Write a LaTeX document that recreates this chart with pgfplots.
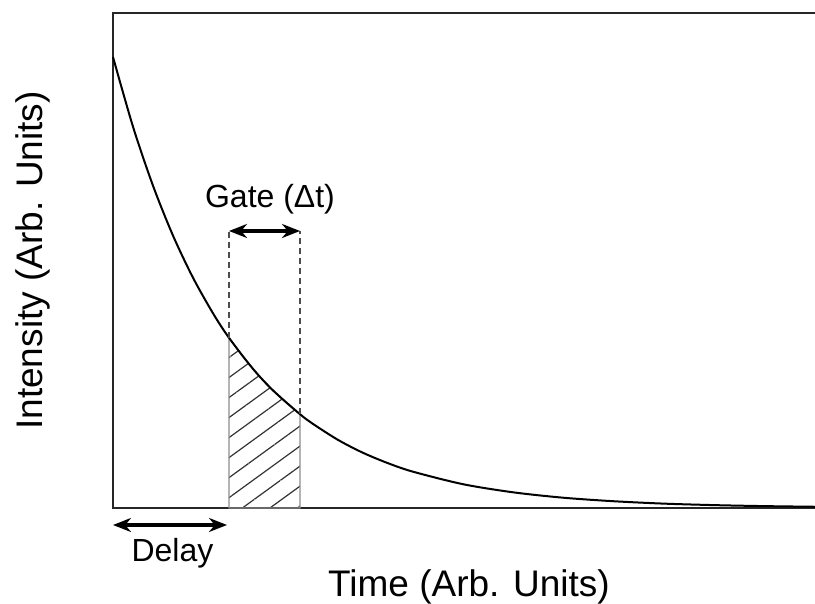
\documentclass[border=0pt]{standalone}
\usepackage{fontspec}
\setmainfont{Liberation Sans}
\usepackage{pgfplots}
\pgfplotsset{compat=1.18}
\usetikzlibrary{arrows.meta,patterns.meta}

\begin{document}
\begin{tikzpicture}
\begin{axis}[
  at={(0,0)}, anchor=south west,
  scale only axis,
  width=356pt, height=247.5pt,
  xmin=0, xmax=7.12,
  ymin=0, ymax=4.95,
  xtick=\empty, ytick=\empty,
  axis line style={line width=1pt, black!85},
  clip=false,
  xlabel={Time (Arb. Units)},
  ylabel={Intensity (Arb. Units)},
  label style={font=\fontsize{18.5}{20}\selectfont},
  xlabel style={at={(rel axis cs:0.5,-0.178)}, anchor=base},
  ylabel style={at={(rel axis cs:-0.112,0.5)}, anchor=center, rotate=0},
]
% hatched gate region under the decay
\addplot[draw=black!45, line width=0.7pt,
  pattern={Lines[angle=36,distance=8.1pt,line width=0.6pt]},
  pattern color=black!80] coordinates {
  (1.16,0) (1.16,1.702) (1.3,1.513) (1.45,1.334) (1.6,1.176)
  (1.75,1.037) (1.87,0.938) (1.87,0)
} -- cycle;

% decay curve
\addplot[smooth, black, line width=1pt] coordinates {
  (0,4.51) (0.2,3.813) (0.4,3.223) (0.6,2.724) (0.8,2.303) (1.0,1.947)
  (1.16,1.702) (1.4,1.391) (1.6,1.176) (1.87,0.938) (2.0,0.841)
  (2.25,0.681) (2.5,0.552) (2.75,0.448) (3.0,0.363) (3.5,0.238)
  (4.0,0.157) (4.5,0.103) (5.0,0.068) (5.5,0.044) (6.0,0.029)
  (6.5,0.019) (7.12,0.011)
};

% gate edges
\addplot[black!70, line width=0.7pt, dash pattern=on 3pt off 2pt] coordinates {(1.16,1.702) (1.16,2.77)};
\addplot[black!70, line width=0.7pt, dash pattern=on 3pt off 2pt] coordinates {(1.87,0.938) (1.87,2.77)};

% arrows
\addplot[line width=2.4pt, {Stealth[length=9pt,width=7pt]}-{Stealth[length=9pt,width=7pt]}] coordinates {(1.16,2.77) (1.87,2.77)};
\addplot[line width=2.4pt, {Stealth[length=9pt,width=7pt]}-{Stealth[length=9pt,width=7pt]}] coordinates {(0.0,-0.17) (1.14,-0.17)};

\node[anchor=base, font=\fontsize{16}{18}\selectfont] at (axis cs:1.57,3.0) {Gate (Δt)};
\node[anchor=base, font=\fontsize{16}{18}\selectfont] at (axis cs:0.595,-0.54) {Delay};
\end{axis}
\pgfresetboundingbox
\useasboundingbox (-56.5pt,-48pt) rectangle (351pt,254pt);
\end{tikzpicture}
\end{document}
